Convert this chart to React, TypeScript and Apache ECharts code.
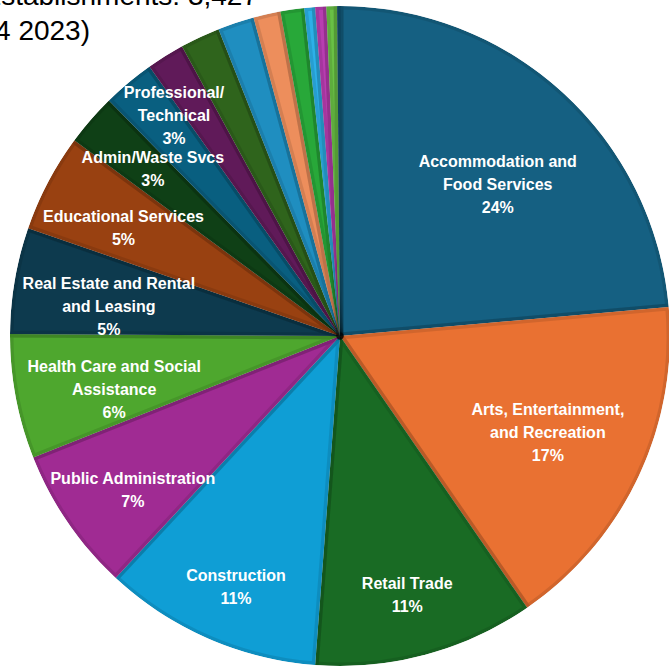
import React, { useEffect, useRef } from "react";
import * as echarts from "echarts";

// Industry categories (clockwise from 12 o'clock), as labelled in the chart
const categories: string[] = [
  "Accommodation and\nFood Services",
  "Arts, Entertainment,\nand Recreation",
  "Retail Trade",
  "Construction",
  "Public Administration",
  "Health Care and Social\nAssistance",
  "Real Estate and Rental\nand Leasing",
  "Educational Services",
  "Admin/Waste Svcs",
  "Professional/\nTechnical",
  "Other Services",
  "Manufacturing",
  "Transportation and Warehousing",
  "Wholesale Trade",
  "Finance and Insurance",
  "Information",
  "Agriculture",
  "Utilities",
  "Management of Companies",
];

// Share of total (percent)
const values: number[] = [
  23.6, 16.8, 10.8, 10.7, 7.1, 6.1, 5.2, 4.8, 2.55, 2.55,
  1.85, 1.95, 1.78, 1.33, 1.16, 0.53, 0.54, 0.52, 0.14,
];

const colors: string[] = [
  "#156082", "#E97132", "#196B24", "#0F9ED5", "#A02B93", "#4EA72E",
  "#0D3A4E", "#994111", "#0F4016", "#095F80", "#601A59", "#2F641C",
  "#1F8EC0", "#ED8E5C", "#28A839", "#2CB0E8", "#B83DB0", "#69C045",
  "#114D68",
];

const TITLE_LINE1 = "Total Establishments: 3,427";
const TITLE_LINE2 = "(Q4 2023)";

// label placement (layout only): radial distance and angular nudge (deg)
const labelDist = [219, 229, 268, 272, 258, 232, 233, 242, 251, 276];
const labelTurn = [3.6, -0.4, 0.6, -1.1, -2.2, -2.6, -2.5, -1.2, 0.85, 2.9];

export default function App() {
  const ref = useRef<HTMLDivElement>(null);
  useEffect(() => {
    document.body.style.margin = "0";
    const chart = echarts.init(ref.current!, null, { renderer: "svg" });
    const total = values.reduce((a, b) => a + b, 0);
    const CX = 340, CY = 336, R = 330;
    const mids: number[] = [];
    let acc = 0;
    values.forEach((v) => {
      mids.push(((acc + v / 2) / total) * 360);
      acc += v;
    });
    chart.setOption({
      animation: false,
      series: [
        {
          type: "pie",
          center: [CX, CY],
          radius: R,
          startAngle: 90,
          clockwise: true,
          silent: true,
          avoidLabelOverlap: false,
          emphasis: { disabled: true },
          itemStyle: {
            borderColor: "rgba(0,0,0,0.1)",
            borderWidth: 7,
            borderJoin: "round",
          },
          label: {
            show: true,
            position: "inside",
            color: "#ffffff",
            fontFamily: "Liberation Sans, Arial, sans-serif",
            fontWeight: "bold",
            fontSize: 16,
            lineHeight: 23,
            align: "center",
            formatter: (p: any) =>
              `${p.name}\n${Math.round((p.value / total) * 100)}%`,
          },
          labelLine: { show: false },
          labelLayout: (p: any) => {
            const i = p.dataIndex;
            if (i >= labelDist.length) return {};
            const a = ((mids[i] + labelTurn[i]) * Math.PI) / 180;
            return {
              x: CX + labelDist[i] * Math.sin(a),
              y: CY - labelDist[i] * Math.cos(a),
              align: "center",
              verticalAlign: "middle",
            };
          },
          data: categories.map((name, i) => ({
            name,
            value: values[i],
            itemStyle: { color: colors[i] },
            label: { show: (values[i] / total) * 100 >= 2.5 },
          })),
        },
      ],
      graphic: [
        {
          type: "ring",
          silent: true,
          z: 100,
          shape: { cx: CX, cy: CY, r: 520, r0: R },
          style: { fill: "#ffffff" },
        },
        {
          type: "text",
          z: 110,
          x: 258,
          y: -4.7,
          style: {
            text: TITLE_LINE1,
            fill: "#000000",
            font: "28px 'Liberation Sans', Arial, sans-serif",
            align: "right",
            verticalAlign: "middle",
          },
        },
        {
          type: "text",
          z: 110,
          x: 90,
          y: 30.3,
          style: {
            text: TITLE_LINE2,
            fill: "#000000",
            font: "28px 'Liberation Sans', Arial, sans-serif",
            align: "right",
            verticalAlign: "middle",
          },
        },
      ],
    });
    return () => chart.dispose();
  }, []);
  return <div ref={ref} style={{ width: 669, height: 667 }} />;
}
